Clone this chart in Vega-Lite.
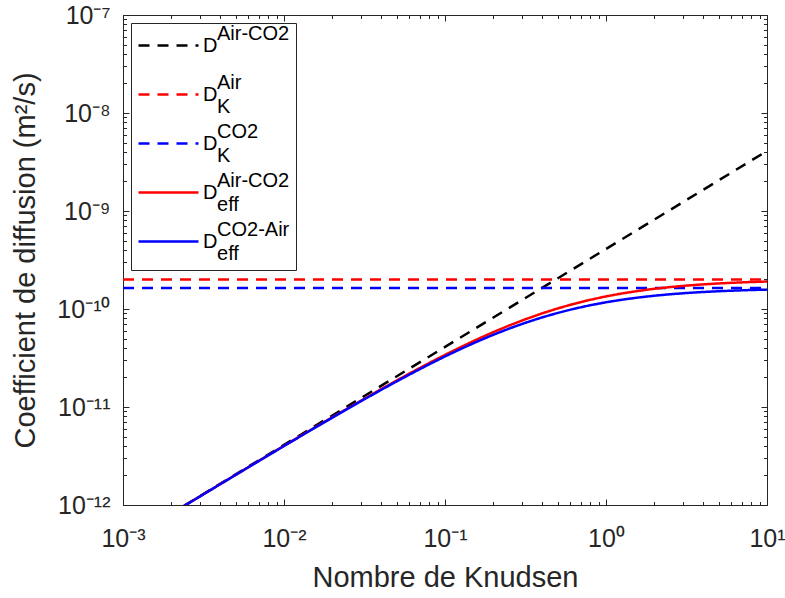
{
  "$schema": "https://vega.github.io/schema/vega-lite/v6.json",
  "width": 644,
  "height": 490,
  "autosize": {"type": "none"},
  "padding": {"left": 123, "top": 15, "right": 18, "bottom": 93},
  "background": "white",
  "config": {
    "view": {"stroke": "#262626", "strokeWidth": 1},
    "font": "Liberation Sans",
    "axis": {"grid": false, "domainColor": "#262626", "tickColor": "#262626", "labelColor": "#262626", "titleColor": "#262626", "labelFont": "Liberation Sans", "titleFont": "Liberation Sans", "titleFontWeight": "normal"}
  },
  "data": {
    "values": [
      {"s": "Dab", "x": 0.0024, "y": 9.84e-13},
      {"s": "Dab", "x": 10, "y": 4.1e-9},
      {"s": "DKair", "x": 0.001, "y": 2.0e-10},
      {"s": "DKair", "x": 10, "y": 2.0e-10},
      {"s": "DKco2", "x": 0.001, "y": 1.64e-10},
      {"s": "DKco2", "x": 10, "y": 1.64e-10},
      {"s": "Deffair", "x": 0.0024, "y": 9.792e-13},
      {"s": "Deffair", "x": 0.0025119, "y": 1.0259e-12},
      {"s": "Deffair", "x": 0.0031623, "y": 1.2882e-12},
      {"s": "Deffair", "x": 0.0039811, "y": 1.6191e-12},
      {"s": "Deffair", "x": 0.0050119, "y": 2.034e-12},
      {"s": "Deffair", "x": 0.0063096, "y": 2.554e-12},
      {"s": "Deffair", "x": 0.0079433, "y": 3.2046e-12},
      {"s": "Deffair", "x": 0.01, "y": 4.0177e-12},
      {"s": "Deffair", "x": 0.012589, "y": 5.0317e-12},
      {"s": "Deffair", "x": 0.015849, "y": 6.2936e-12},
      {"s": "Deffair", "x": 0.019953, "y": 7.8594e-12},
      {"s": "Deffair", "x": 0.025119, "y": 9.7946e-12},
      {"s": "Deffair", "x": 0.031623, "y": 1.2176e-11},
      {"s": "Deffair", "x": 0.039811, "y": 1.5091e-11},
      {"s": "Deffair", "x": 0.050119, "y": 1.8634e-11},
      {"s": "Deffair", "x": 0.063096, "y": 2.2906e-11},
      {"s": "Deffair", "x": 0.079433, "y": 2.8007e-11},
      {"s": "Deffair", "x": 0.1, "y": 3.4025e-11},
      {"s": "Deffair", "x": 0.12589, "y": 4.1027e-11},
      {"s": "Deffair", "x": 0.15849, "y": 4.9046e-11},
      {"s": "Deffair", "x": 0.19953, "y": 5.8059e-11},
      {"s": "Deffair", "x": 0.25119, "y": 6.7982e-11},
      {"s": "Deffair", "x": 0.31623, "y": 7.8661e-11},
      {"s": "Deffair", "x": 0.39811, "y": 8.9876e-11},
      {"s": "Deffair", "x": 0.50119, "y": 1.0135e-10},
      {"s": "Deffair", "x": 0.63096, "y": 1.128e-10},
      {"s": "Deffair", "x": 0.79433, "y": 1.2391e-10},
      {"s": "Deffair", "x": 1, "y": 1.3443e-10},
      {"s": "Deffair", "x": 1.2589, "y": 1.4415e-10},
      {"s": "Deffair", "x": 1.5849, "y": 1.5293e-10},
      {"s": "Deffair", "x": 1.9953, "y": 1.6071e-10},
      {"s": "Deffair", "x": 2.5119, "y": 1.6748e-10},
      {"s": "Deffair", "x": 3.1623, "y": 1.7327e-10},
      {"s": "Deffair", "x": 3.9811, "y": 1.7817e-10},
      {"s": "Deffair", "x": 5.0119, "y": 1.8226e-10},
      {"s": "Deffair", "x": 6.3096, "y": 1.8565e-10},
      {"s": "Deffair", "x": 7.9433, "y": 1.8843e-10},
      {"s": "Deffair", "x": 10, "y": 1.907e-10},
      {"s": "Deffco2", "x": 0.0024, "y": 9.781e-13},
      {"s": "Deffco2", "x": 0.0025119, "y": 1.0235e-12},
      {"s": "Deffco2", "x": 0.0031623, "y": 1.2864e-12},
      {"s": "Deffco2", "x": 0.0039811, "y": 1.6162e-12},
      {"s": "Deffco2", "x": 0.0050119, "y": 2.0295e-12},
      {"s": "Deffco2", "x": 0.0063096, "y": 2.5468e-12},
      {"s": "Deffco2", "x": 0.0079433, "y": 3.1934e-12},
      {"s": "Deffco2", "x": 0.01, "y": 4.0e-12},
      {"s": "Deffco2", "x": 0.012589, "y": 5.004e-12},
      {"s": "Deffco2", "x": 0.015849, "y": 6.2504e-12},
      {"s": "Deffco2", "x": 0.019953, "y": 7.7921e-12},
      {"s": "Deffco2", "x": 0.025119, "y": 9.6903e-12},
      {"s": "Deffco2", "x": 0.031623, "y": 1.2016e-11},
      {"s": "Deffco2", "x": 0.039811, "y": 1.4845e-11},
      {"s": "Deffco2", "x": 0.050119, "y": 1.8261e-11},
      {"s": "Deffco2", "x": 0.063096, "y": 2.2345e-11},
      {"s": "Deffco2", "x": 0.079433, "y": 2.7172e-11},
      {"s": "Deffco2", "x": 0.1, "y": 3.28e-11},
      {"s": "Deffco2", "x": 0.12589, "y": 3.9259e-11},
      {"s": "Deffco2", "x": 0.15849, "y": 4.654e-11},
      {"s": "Deffco2", "x": 0.19953, "y": 5.4581e-11},
      {"s": "Deffco2", "x": 0.25119, "y": 6.3261e-11},
      {"s": "Deffco2", "x": 0.31623, "y": 7.2409e-11},
      {"s": "Deffco2", "x": 0.39811, "y": 8.1806e-11},
      {"s": "Deffco2", "x": 0.50119, "y": 9.1207e-11},
      {"s": "Deffco2", "x": 0.63096, "y": 1.0037e-10},
      {"s": "Deffco2", "x": 0.79433, "y": 1.0907e-10},
      {"s": "Deffco2", "x": 1, "y": 1.1714e-10},
      {"s": "Deffco2", "x": 1.2589, "y": 1.2446e-10},
      {"s": "Deffco2", "x": 1.5849, "y": 1.3095e-10},
      {"s": "Deffco2", "x": 1.9953, "y": 1.3661e-10},
      {"s": "Deffco2", "x": 2.5119, "y": 1.4147e-10},
      {"s": "Deffco2", "x": 3.1623, "y": 1.4558e-10},
      {"s": "Deffco2", "x": 3.9811, "y": 1.4903e-10},
      {"s": "Deffco2", "x": 5.0119, "y": 1.5188e-10},
      {"s": "Deffco2", "x": 6.3096, "y": 1.5422e-10},
      {"s": "Deffco2", "x": 7.9433, "y": 1.5614e-10},
      {"s": "Deffco2", "x": 10, "y": 1.5769e-10}
    ]
  },
  "layer": [
    {
      "mark": {"type": "line", "clip": true, "strokeWidth": 2.5},
      "encoding": {
        "x": {
          "field": "x", "type": "quantitative",
          "scale": {"type": "log", "domain": [0.001, 10]},
          "axis": {
            "orient": "bottom",
            "title": "Nombre de Knudsen",
            "titleFontSize": 29,
            "titlePadding": 10,
            "values": [0.001,0.002,0.003,0.004,0.005,0.006,0.007,0.008,0.009,0.01,0.02,0.03,0.04,0.05,0.06,0.07,0.08,0.09,0.1,0.2,0.3,0.4,0.5,0.6,0.7,0.8,0.9,1,2,3,4,5,6,7,8,9,10],
            "labelExpr": "abs(log(datum.value)/LN10 - round(log(datum.value)/LN10)) > 0.01 ? '' : ['10⁻³','10⁻²','10⁻¹','10⁰','10¹'][round(log(datum.value)/LN10)+3]",
            "labelFontSize": 25,
            "labelPadding": 27,
            "labelFlush": false,
            "labelOverlap": false,
            "tickSize": {"condition": {"test": "abs(log(datum.value)/LN10 - round(log(datum.value)/LN10)) < 0.01", "value": -6}, "value": -3.5},
            "tickWidth": 1
          }
        },
        "y": {
          "field": "y", "type": "quantitative",
          "scale": {"type": "log", "domain": [1e-12, 1e-7]},
          "axis": {
            "orient": "left",
            "title": "Coefficient de diffusion (m²/s)",
            "titleFontSize": 29,
            "titlePadding": 16,
            "values": [1e-12,2e-12,3e-12,4e-12,5e-12,6e-12,7e-12,8e-12,9e-12,1e-11,2e-11,3e-11,4e-11,5e-11,6e-11,7e-11,8e-11,9e-11,1e-10,2e-10,3e-10,4e-10,5e-10,6e-10,7e-10,8e-10,9e-10,1e-9,2e-9,3e-9,4e-9,5e-9,6e-9,7e-9,8e-9,9e-9,1e-8,2e-8,3e-8,4e-8,5e-8,6e-8,7e-8,8e-8,9e-8,1e-7],
            "labelExpr": "abs(log(datum.value)/LN10 - round(log(datum.value)/LN10)) > 0.01 ? '' : ['10⁻¹²','10⁻¹¹','10⁻¹⁰','10⁻⁹','10⁻⁸','10⁻⁷'][round(log(datum.value)/LN10)+12]",
            "labelFontSize": 25,
            "labelPadding": 19,
            "labelFlush": false,
            "labelOverlap": false,
            "tickSize": {"condition": {"test": "abs(log(datum.value)/LN10 - round(log(datum.value)/LN10)) < 0.01", "value": -6}, "value": -3.5},
            "tickWidth": 1
          }
        },
        "color": {
          "field": "s", "type": "nominal",
          "scale": {"domain": ["Dab", "DKair", "DKco2", "Deffair", "Deffco2"], "range": ["#000000", "#ff0000", "#0000ff", "#ff0000", "#0000ff"]},
          "legend": {
            "title": null,
            "orient": "top-left",
            "offset": 8,
            "padding": 6,
            "fillColor": "white",
            "strokeColor": "#262626",
            "symbolType": "M-2,0H2",
            "symbolSize": 900,
            "symbolOffset": 15,
            "symbolStrokeWidth": 2.5,
            "labelFontSize": 20,
            "labelColor": "#000000",
            "labelOffset": 18,
            "labelLimit": 200,
            "rowPadding": 4,
            "encode": {"labels": {"update": {"lineHeight": {"value": 12}, "dy": {"value": -12}}}},
            "labelExpr": "datum.label == 'Dab' ? ['\u200b\u2002\u2009Air-CO2','D','\u200b'] : datum.label == 'DKair' ? ['\u200b\u2002\u2009Air','D','\u200b\u2002\u2009K'] : datum.label == 'DKco2' ? ['\u200b\u2002\u2009CO2','D','\u200b\u2002\u2009K'] : datum.label == 'Deffair' ? ['\u200b\u2002\u2009Air-CO2','D','\u200b\u2002\u2009eff'] : ['\u200b\u2002\u2009CO2-Air','D','\u200b\u2002\u2009eff']"
          }
        },
        "strokeDash": {
          "field": "s", "type": "nominal",
          "scale": {"domain": ["Dab", "DKair", "DKco2", "Deffair", "Deffco2"], "range": [[11, 8], [11, 8], [11, 8], [1, 0], [1, 0]]},
          "legend": {
            "title": null,
            "labelExpr": "datum.label == 'Dab' ? ['\u200b\u2002\u2009Air-CO2','D','\u200b'] : datum.label == 'DKair' ? ['\u200b\u2002\u2009Air','D','\u200b\u2002\u2009K'] : datum.label == 'DKco2' ? ['\u200b\u2002\u2009CO2','D','\u200b\u2002\u2009K'] : datum.label == 'Deffair' ? ['\u200b\u2002\u2009Air-CO2','D','\u200b\u2002\u2009eff'] : ['\u200b\u2002\u2009CO2-Air','D','\u200b\u2002\u2009eff']"
          }
        }
      }
    },
    {
      "mark": {"type": "line", "opacity": 0},
      "encoding": {
        "x": {
          "field": "x", "type": "quantitative",
          "axis": {
            "orient": "top", "title": null, "labels": false,
            "values": [0.001,0.002,0.003,0.004,0.005,0.006,0.007,0.008,0.009,0.01,0.02,0.03,0.04,0.05,0.06,0.07,0.08,0.09,0.1,0.2,0.3,0.4,0.5,0.6,0.7,0.8,0.9,1,2,3,4,5,6,7,8,9,10],
            "tickSize": {"condition": {"test": "abs(log(datum.value)/LN10 - round(log(datum.value)/LN10)) < 0.01", "value": -6}, "value": -3.5},
            "tickWidth": 1
          }
        },
        "y": {
          "field": "y", "type": "quantitative",
          "axis": {
            "orient": "right", "title": null, "labels": false,
            "values": [1e-12,2e-12,3e-12,4e-12,5e-12,6e-12,7e-12,8e-12,9e-12,1e-11,2e-11,3e-11,4e-11,5e-11,6e-11,7e-11,8e-11,9e-11,1e-10,2e-10,3e-10,4e-10,5e-10,6e-10,7e-10,8e-10,9e-10,1e-9,2e-9,3e-9,4e-9,5e-9,6e-9,7e-9,8e-9,9e-9,1e-8,2e-8,3e-8,4e-8,5e-8,6e-8,7e-8,8e-8,9e-8,1e-7],
            "tickSize": {"condition": {"test": "abs(log(datum.value)/LN10 - round(log(datum.value)/LN10)) < 0.01", "value": -6}, "value": -3.5},
            "tickWidth": 1
          }
        }
      }
    }
  ],
  "resolve": {"axis": {"x": "independent", "y": "independent"}}
}
